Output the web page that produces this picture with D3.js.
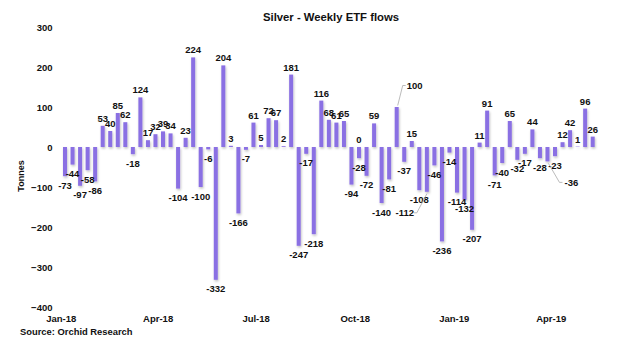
<!DOCTYPE html>
<html>
<head>
<meta charset="utf-8">
<script src="https://cdn.jsdelivr.net/npm/d3@7"></script>
<style>
  html, body { margin: 0; padding: 0; background: #fff; }
  svg { display: block; font-family: "Liberation Sans", Arial, sans-serif; }
</style>
</head>
<body>
<svg id="chart" width="640" height="341"></svg>
<script>
// Weekly silver ETF flows (tonnes), one value per Friday from 5 Jan 2018
const firstWeek = "2018-01-05";
const flows = [
  -73, -44, -97, -58, -86, 53, 40, 85, 62, -18,
  124, 17, 32, 39, 34, -104, 23, 224, -100, -6,
  -332, 204, 3, -166, -7, 61, 5, 72, 67, 2,
  181, -247, -17, -218, 116, 68, 61, 65, -94, -28,
  -72, 59, -140, -81, 100, -37, 15, -108, -112, -46,
  -236, -14, -114, -132, -207, 11, 91, -71, -40, 65,
  -32, -17, 44, -28, -36, -23, 12, 42, 1, 96, 26
];
// A zero-flow entry reported for the same week as the -28 reading
const zeroWeeks = ["2018-10-05"];
const zeroValues = [0];

const yTicks = [300, 200, 100, 0, -100, -200, -300, -400];
const xTickLabels = ["Jan-18", "Apr-18", "Jul-18", "Oct-18", "Jan-19", "Apr-19"];

// Labels pulled aside with a leader line: week index -> label offset
const calloutWeeks = [44, 48, 64];
const calloutDx = [18, -22, 24];
const calloutDy = [-14, 12, 12];

const parse = d3.utcParse("%Y-%m-%d");
const start = parse(firstWeek);
const data = flows.map((v, i) => ({ date: d3.utcDay.offset(start, 7 * i), value: v, i }));
const zeros = zeroWeeks.map((d, k) => ({ date: parse(d), value: zeroValues[k] }));
const tickDates = xTickLabels.map(s => d3.utcParse("%b-%y")(s));

const svg = d3.select("#chart");
const purple = "#8a6fe3";

const x = d3.scaleUtc()
  .domain([parse("2018-01-01"), parse("2019-04-01")])
  .range([60.7, 550.7]);
const y = d3.scaleLinear().domain([-400, 300]).range([307, 27]);

// soft shadow under the bars
const defs = svg.append("defs");
const f = defs.append("filter").attr("id", "shadow")
  .attr("x", "-50%").attr("y", "-10%").attr("width", "200%").attr("height", "130%");
f.append("feDropShadow").attr("dx", 0.8).attr("dy", 1.5)
  .attr("stdDeviation", 0.9).attr("flood-color", "#000").attr("flood-opacity", 0.25);

// title
svg.append("text").attr("x", 331).attr("y", 21)
  .attr("text-anchor", "middle").attr("font-size", 11.3).attr("font-weight", "bold")
  .attr("fill", "#111").text("Silver - Weekly ETF flows");

// y axis labels
const yAxis = d3.axisLeft(y).tickValues(yTicks).tickSize(0).tickPadding(0);
svg.append("g").attr("transform", "translate(52.5,0)").call(yAxis)
  .call(g => g.select(".domain").remove())
  .call(g => g.selectAll("text").attr("font-size", 9.5).attr("font-weight", "bold")
    .attr("fill", "#111").attr("font-family", "Liberation Sans, Arial, sans-serif"));

svg.append("text").attr("transform", "translate(23.5,176) rotate(-90)")
  .attr("text-anchor", "middle").attr("font-size", 9).attr("font-weight", "bold")
  .attr("fill", "#111").text("Tonnes");

// x axis labels
const xAxis = d3.axisBottom(x).tickValues(tickDates)
  .tickFormat(d3.utcFormat("%b-%y")).tickSize(0).tickPadding(0);
svg.append("g").attr("transform", "translate(0,315)").call(xAxis)
  .call(g => g.select(".domain").remove())
  .call(g => g.selectAll("text").attr("font-size", 9.5).attr("font-weight", "bold")
    .attr("fill", "#111").attr("font-family", "Liberation Sans, Arial, sans-serif"));

// bars
const bw = 4;
svg.append("g").attr("filter", "url(#shadow)")
  .selectAll("rect").data(data).join("rect")
  .attr("x", d => x(d.date) - bw / 2)
  .attr("y", d => y(Math.max(0, d.value)))
  .attr("width", bw)
  .attr("height", d => Math.abs(y(d.value) - y(0)))
  .attr("fill", purple);

// value labels
const labels = svg.append("g").attr("font-size", 9.5).attr("font-weight", "bold")
  .attr("fill", "#111").attr("text-anchor", "middle");

function labelPos(d) {
  const bx = x(d.date);
  const by = d.value >= 0 ? y(d.value) - 4 : y(d.value) + 12.5;
  return [bx, by];
}

data.forEach(d => {
  const k = calloutWeeks.indexOf(d.i);
  let [lx, ly] = labelPos(d);
  if (k >= 0) {
    const bx = x(d.date);
    const tipY = d.value >= 0 ? y(d.value) - 1.5 : y(d.value) + 2;
    lx = bx + calloutDx[k];
    ly = ly + calloutDy[k];
    const midY = ly - 3.5;
    const edge = calloutDx[k] > 0 ? lx - 9 : lx + 9;
    const elbow = calloutDx[k] > 0 ? edge - 3 : edge + 3;
    svg.append("path")
      .attr("d", `M${bx + (calloutDx[k] > 0 ? 1 : 0)},${tipY} L${elbow},${midY} L${edge},${midY}`)
      .attr("fill", "none").attr("stroke", "#aaa").attr("stroke-width", 0.8);
  }
  labels.append("text").attr("x", lx).attr("y", ly).text(d.value);
});

zeros.forEach(d => {
  labels.append("text").attr("x", x(d.date)).attr("y", y(0) - 4).text(d.value);
});

// source note
svg.append("text").attr("x", 20).attr("y", 334.5)
  .attr("font-size", 9.4).attr("font-weight", "bold").attr("fill", "#111")
  .text("Source: Orchid Research");
</script>
</body>
</html>
